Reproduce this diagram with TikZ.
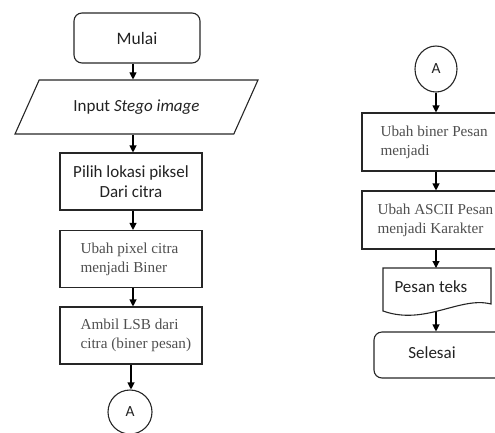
\documentclass[tikz,border=0pt]{standalone}
\usepackage{fontspec}
\setmainfont{Carlito}
\newfontfamily\tnr{Liberation Serif}
\usetikzlibrary{shapes.geometric,arrows.meta}
\definecolor{tgray}{HTML}{4F4F4F}
\definecolor{cdark}{HTML}{222222}
\tikzset{
  x=1pt,y=-1pt,
  line/.style={line width=1.1pt,draw=black!85},
  arr/.style={line width=1.1pt,draw=black,-{Triangle[length=7pt,width=7pt]}},
  calib/.style={font=\fontsize{17}{20.5}\selectfont,text=cdark,align=center},
  times/.style={font=\tnr\fontsize{15.2}{19}\selectfont,text=tgray,align=left},
  boxL/.style={line,rectangle,minimum width=142pt,minimum height=57pt,inner sep=0pt},
  boxR/.style={line,rectangle,minimum width=143pt,minimum height=58pt,inner sep=0pt},
  conn/.style={line,ellipse,inner sep=0pt,font=\fontsize{15.5}{17}\selectfont,text=cdark},
}
\begin{document}
\begin{tikzpicture}
\useasboundingbox (0,0) rectangle (495,432);
\clip (0,0) rectangle (495,432);
% left column
\node[line,rectangle,rounded corners=8pt,minimum width=126pt,minimum height=50pt,calib,font=\fontsize{17.5}{20}\selectfont] (mulai) at (137,38) {Mulai};
\node[line,trapezium,trapezium left angle=43,trapezium right angle=137,trapezium stretches=true,minimum width=243pt,minimum height=54pt,inner sep=0pt,calib] (input) at (136.5,107) {Input \textit{Stego image}};
\node[boxL,calib] (pilih) at (131,181.5) {Pilih lokasi piksel\\Dari citra};
\node[boxL] (ubah) at (131,259) {};
\node[times,anchor=west] (ubahT) at (77,259) {Ubah pixel citra\\menjadi Biner};
\node[boxL] (ambil) at (131,335.5) {};
\node[times,anchor=west] (ambilT) at (77,335.5) {Ambil LSB dari\\citra (biner pesan)};
\node[conn,minimum width=44pt,minimum height=44pt] (a1) at (130,412) {A};
\draw[arr] (mulai.south -| 133,0) -- (input.north -| 133,0);
\draw[arr] (input.south -| 133,0) -- (pilih.north -| 133,0);
\draw[arr] (pilih.south -| 133,0) -- (ubah.north -| 133,0);
\draw[arr] (ubah.south -| 133,0) -- (ambil.north -| 133,0);
\draw[arr] (ambil.south -| 131,0) -- (a1.north -| 131,0);
% right column
\node[conn,minimum width=42pt,minimum height=46pt] (a2) at (436,69) {A};
\node[boxR] (biner) at (433.5,142) {};
\node[times,anchor=west] (binerT) at (377,142) {Ubah biner Pesan\\menjadi};
\node[boxR] (ascii) at (433.5,220) {};
\node[times,anchor=west] (asciiT) at (374,220) {Ubah ASCII Pesan\\menjadi Karakter};
\coordinate (p1) at (383,268);
\coordinate (p2) at (491,268);
\coordinate (p3) at (491,304);
\coordinate (p4) at (383,311);
\coordinate (pw) at (436,311.5);
\draw[line] (p1) -- (p2) -- (p3) .. controls (460,296) and (425,326) .. (p4) -- cycle;
\node[calib,anchor=west] (pesan) at (391,287) {Pesan teks};
\node[line,rectangle,rounded corners=8pt,minimum width=130pt,minimum height=46pt,inner sep=0pt] (selesai) at (439,355) {};
\node[calib] (selesaiT) at (432,353) {Selesai};
\draw[arr] (a2.south -| 436,0) -- (biner.north -| 436,0);
\draw[arr] (biner.south -| 436,0) -- (ascii.north -| 436,0);
\draw[arr] (ascii.south -| 436,0) -- (p1 -| 436,0);
\draw[arr] (pw) -- (selesai.north -| 436,0);
\end{tikzpicture}
\end{document}
